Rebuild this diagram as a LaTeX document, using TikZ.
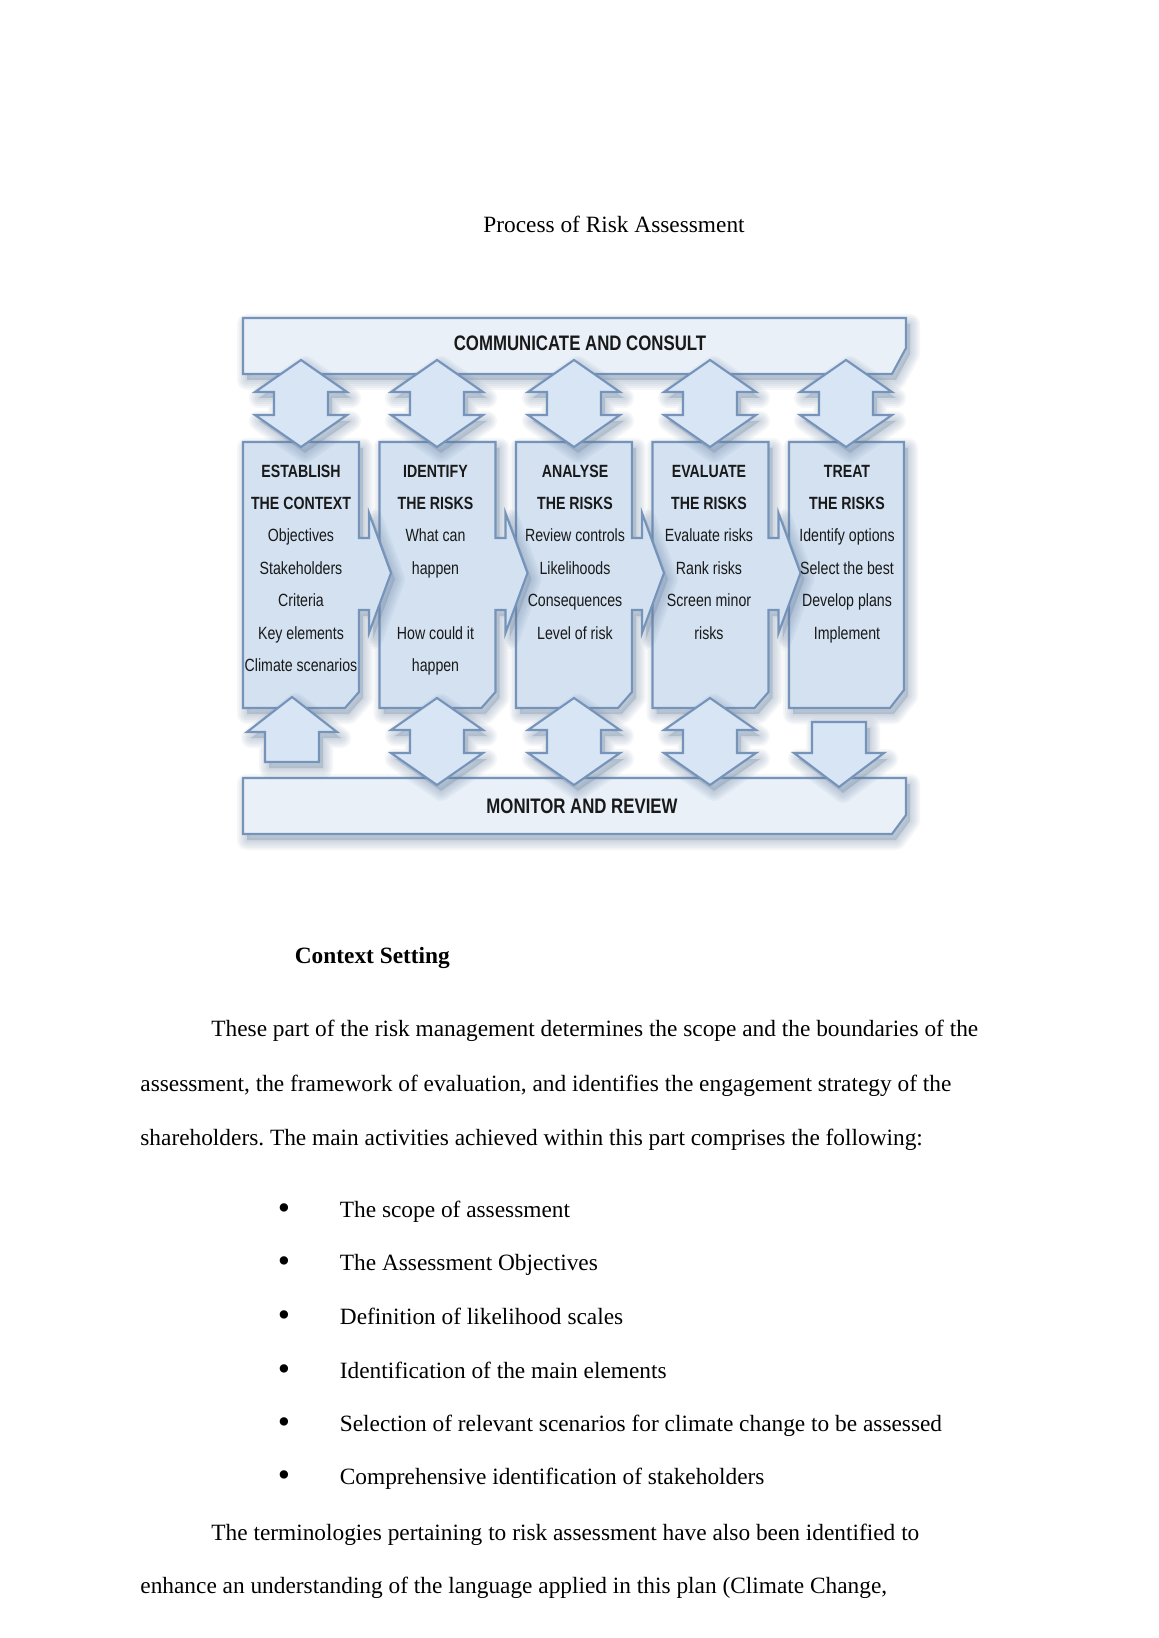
\documentclass[tikz,border=0pt]{standalone}
\usepackage{fontspec}
\setmainfont{Liberation Serif}
\newfontfamily\diafont[FakeStretch=0.8]{Liberation Sans}
\definecolor{barfill}{RGB}{233,240,248}
\definecolor{boxfill}{RGB}{211,225,241}
\definecolor{arrfill}{RGB}{216,229,244}
\definecolor{edgec}{RGB}{118,148,186}
\definecolor{shc}{RGB}{100,126,158}
\definecolor{dtext}{RGB}{25,25,25}
\frenchspacing

\newcommand{\softshadow}[1]{%
  \begin{scope}[shift={(4,6)}]
    \fill[shc, opacity=0.28] #1;
    \foreach \w in {4,8,12,16,20} {\draw[shc, line width=\w*0.514pt, draw opacity=0.065, line join=round] #1;}
  \end{scope}}
\newcommand{\pTop}{(243,318) -- (906,318) -- (906,348) -- (892,374) -- (243,374) -- cycle}
\newcommand{\pBot}{(243,778) -- (906,778) -- (906,815) -- (892,834) -- (243,834) -- cycle}
\newcommand{\pBoxC}[1]{(#1,442) -- (#1+116,442) -- (#1+116,538) -- (#1+126,538) -- (#1+126,513) -- (#1+148,573) -- (#1+126,633) -- (#1+126,610) -- (#1+116,610) -- (#1+116,692) -- (#1+102,708) -- (#1,708) -- cycle}
\newcommand{\pBoxE}{(789,442) -- (904,442) -- (904,690) -- (890,708) -- (789,708) -- cycle}
\newcommand{\pDbl}[2]{(#1,#2) -- ++(46,32) -- ++(-19,0) -- ++(0,23) -- ++(19,0) -- ++(-46,32) -- ++(-46,-32) -- ++(19,0) -- ++(0,-23) -- ++(-19,0) -- cycle}
\newcommand{\pUp}{(292,697) -- ++(45,35) -- ++(-18,0) -- ++(0,30) -- ++(-54,0) -- ++(0,-30) -- ++(-18,0) -- cycle}
\newcommand{\pDown}{(812,722) -- ++(54,0) -- ++(0,31) -- ++(18,0) -- ++(-45,34) -- ++(-45,-34) -- ++(18,0) -- cycle}

\begin{document}
\begin{tikzpicture}[x=0.51406pt, y=-0.51406pt,
  blk/.style={draw=edgec, line width=1.1pt, line join=miter},
  bartext/.style={font=\diafont\bfseries\fontsize{10.8}{12}\selectfont, text=dtext, inner sep=0},
  ctext/.style={font=\diafont\fontsize{9.1}{11}\selectfont, text=dtext, anchor=base, inner sep=0},
  body/.style={font=\fontsize{12}{14}\selectfont, anchor=base west, inner sep=0}]
\fill[white] (0,0) rectangle (1158,1638);
\useasboundingbox (0,0) rectangle (1158,1638);

\node[font=\fontsize{12}{14}\selectfont, anchor=base, inner sep=0] (title) at (614,233) {Process of Risk Assessment};

% bars
\softshadow{\pTop}
\fill[barfill] \pTop; \draw[blk] \pTop;
\softshadow{\pBot}
\fill[barfill] \pBot; \draw[blk] \pBot;

% boxes (right to left so each chevron lies over the next box)
\softshadow{\pBoxE}
\fill[boxfill] \pBoxE; \draw[blk] \pBoxE;
\foreach \L in {652.5,516,379.5,243} {
  \softshadow{\pBoxC{\L}}
  \fill[boxfill] \pBoxC{\L}; \draw[blk] \pBoxC{\L};
}

% top double arrows
\foreach \cx in {301,437,574,710,846} {
  \softshadow{\pDbl{\cx}{360}}
  \fill[arrfill] \pDbl{\cx}{360}; \draw[blk] \pDbl{\cx}{360};
}
% bottom arrows
\softshadow{\pUp}
\fill[arrfill] \pUp; \draw[blk] \pUp;
\foreach \cx in {437,574,710} {
  \softshadow{\pDbl{\cx}{698}}
  \fill[arrfill] \pDbl{\cx}{698}; \draw[blk] \pDbl{\cx}{698};
}
\softshadow{\pDown}
\fill[arrfill] \pDown; \draw[blk] \pDown;

\node[bartext] (cc) at (580,343) {COMMUNICATE AND CONSULT};
\node[bartext] (mr) at (582,806) {MONITOR AND REVIEW};

\foreach \i/\t in {1/ESTABLISH,2/THE CONTEXT,3/Objectives,4/Stakeholders,5/Criteria,6/Key elements,7/Climate scenarios}
  \node[ctext] (ca-\i) at (301,{477+32.4*(\i-1)}) {\ifnum\i<3 \bfseries\fi\t};
\foreach \i/\t in {1/IDENTIFY,2/THE RISKS,3/What can,4/happen,6/How could it,7/happen}
  \node[ctext] (cb-\i) at (435.5,{477+32.4*(\i-1)}) {\ifnum\i<3 \bfseries\fi\t};
\foreach \i/\t in {1/ANALYSE,2/THE RISKS,3/Review controls,4/Likelihoods,5/Consequences,6/Level of risk}
  \node[ctext] (cc-\i) at (575,{477+32.4*(\i-1)}) {\ifnum\i<3 \bfseries\fi\t};
\foreach \i/\t in {1/EVALUATE,2/THE RISKS,3/Evaluate risks,4/Rank risks,5/Screen minor,6/risks}
  \node[ctext] (cd-\i) at (709,{477+32.4*(\i-1)}) {\ifnum\i<3 \bfseries\fi\t};
\foreach \i/\t in {1/TREAT,2/THE RISKS,3/Identify options,4/Select the best,5/Develop plans,6/Implement}
  \node[ctext] (ce-\i) at (847,{477+32.4*(\i-1)}) {\ifnum\i<3 \bfseries\fi\t};

% text body
\node[body, font=\fontsize{12}{14}\selectfont\bfseries] (h1) at (294.5,963.5) {Context Setting};
\node[body] (p1) at (211,1036.5) {These part of the risk management determines the scope and the boundaries of the};
\node[body] (p2) at (140,1091) {assessment, the framework of evaluation, and identifies the engagement strategy of the};
\node[body] (p3) at (140,1145) {shareholders. The main activities achieved within this part comprises the following:};
\foreach \i/\t/\y in {1/The scope of assessment/1217,2/The Assessment Objectives/1270,3/Definition of likelihood scales/1324.5,4/Identification of the main elements/1378,5/Selection of relevant scenarios for climate change to be assessed/1431,6/Comprehensive identification of stakeholders/1484.5} {
  \node[font=\fontsize{18}{18}\selectfont, anchor=base, inner sep=0] (b\i) at (284,\y+2) {•};
  \node[body] (t\i) at (339.5,\y) {\t};
}
\node[body] (q1) at (211,1540) {The terminologies pertaining to risk assessment have also been identified to};
\node[body] (q2) at (140,1593) {enhance an understanding of the language applied in this plan (Climate Change,};
\end{tikzpicture}
\end{document}
